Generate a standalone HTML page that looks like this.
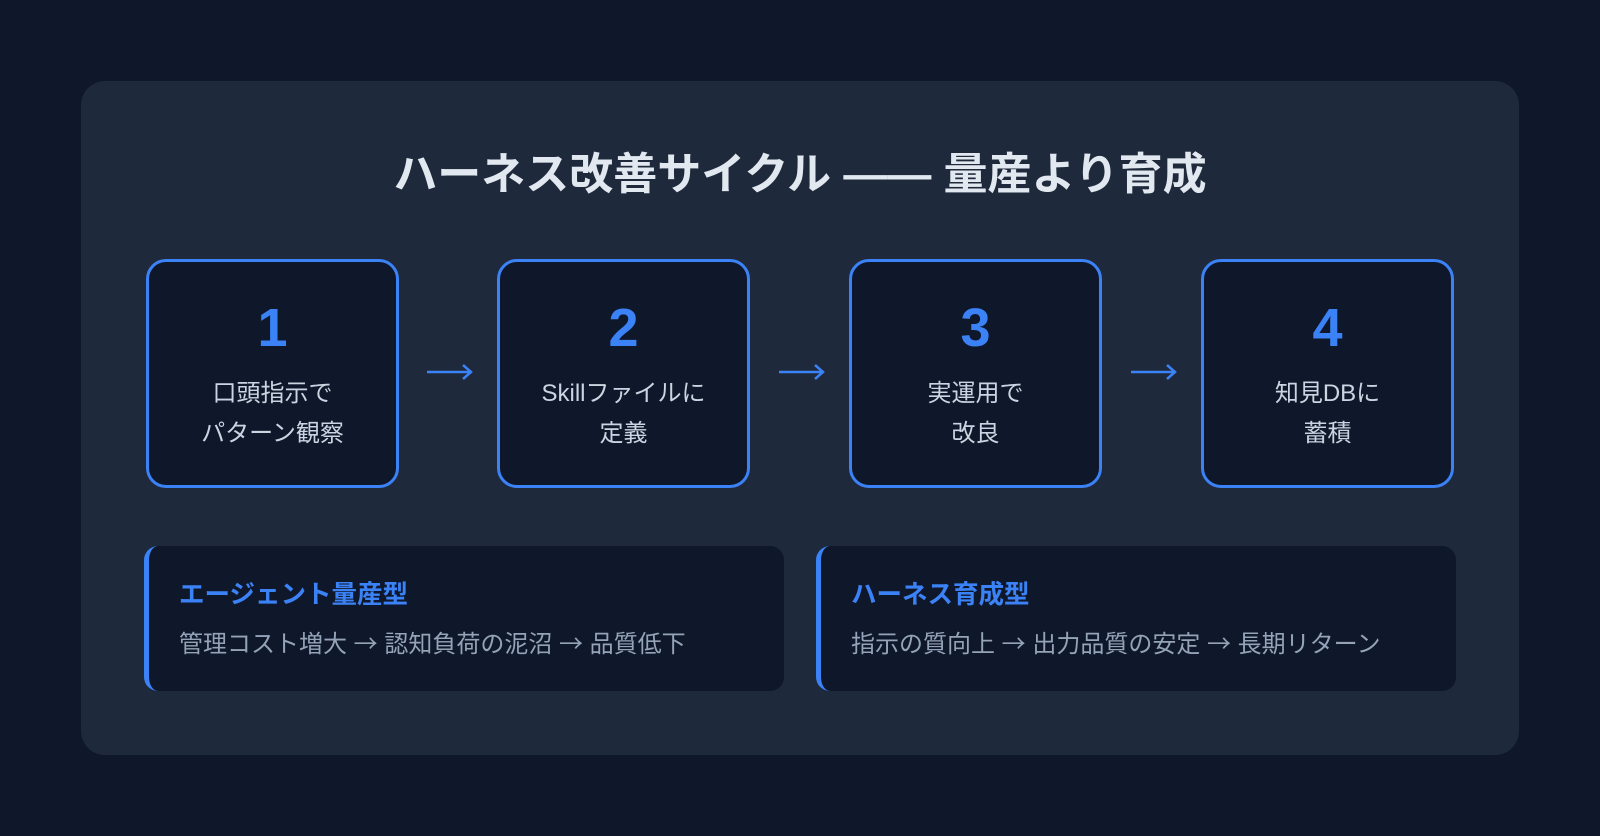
<!DOCTYPE html>
<html><head><meta charset="utf-8"><style>
*{margin:0;padding:0;box-sizing:border-box}
body{width:1600px;height:836px;background:#0f172a;font-family:"Liberation Sans","Noto Sans CJK JP",sans-serif;position:relative;overflow:hidden}
.panel{position:absolute;left:81px;top:81px;width:1438px;height:674px;background:#1e293b;border-radius:24px}
.title{position:absolute;left:0;width:1600px;top:148px;text-align:center;color:#e2e8f0;font-size:44px;font-weight:bold;line-height:54px}
.box{position:absolute;top:259px;width:253px;height:229px;border:3px solid #3b82f6;border-radius:20px;background:#0f172a;text-align:center}
.num{position:absolute;left:0;right:0;top:36px;font-size:54px;font-weight:bold;color:#3b82f6;line-height:60px}
.txt{position:absolute;left:0;right:0;top:112px;font-size:24px;color:#cbd5e1;line-height:40px}
.arr{position:absolute;top:362px}
.card{position:absolute;top:546px;width:640px;height:145px;background:#0f172a;border-left:5px solid #3b82f6;border-radius:14px}
.h{position:absolute;left:30px;top:28px;font-size:25.5px;font-weight:bold;color:#3b82f6}
.b{position:absolute;left:30px;top:78px;font-size:24px;color:#94a3b8;white-space:nowrap}
.b span{font-family:"Noto Sans CJK JP",sans-serif}
</style></head><body>
<div class="panel"></div>
<div class="title">ハーネス改善サイクル —— 量産より育成</div>
<div class="box" style="left:146px"><div class="num">1</div><div class="txt">口頭指示で<br>パターン観察</div></div>
<div class="box" style="left:497px"><div class="num">2</div><div class="txt">Skillファイルに<br>定義</div></div>
<div class="box" style="left:849px"><div class="num">3</div><div class="txt">実運用で<br>改良</div></div>
<div class="box" style="left:1201px"><div class="num">4</div><div class="txt">知見DBに<br>蓄積</div></div>
<svg class="arr" style="left:426px" width="48" height="20"><path d="M1 10H45M37 3L45 10L37 17" stroke="#3b82f6" stroke-width="2.5" fill="none"/></svg>
<svg class="arr" style="left:778px" width="48" height="20"><path d="M1 10H45M37 3L45 10L37 17" stroke="#3b82f6" stroke-width="2.5" fill="none"/></svg>
<svg class="arr" style="left:1130px" width="48" height="20"><path d="M1 10H45M37 3L45 10L37 17" stroke="#3b82f6" stroke-width="2.5" fill="none"/></svg>
<div class="card" style="left:144px"><div class="h">エージェント量産型</div><div class="b">管理コスト増大 <span>→</span> 認知負荷の泥沼 <span>→</span> 品質低下</div></div>
<div class="card" style="left:816px"><div class="h">ハーネス育成型</div><div class="b">指示の質向上 <span>→</span> 出力品質の安定 <span>→</span> 長期リターン</div></div>
</body></html>
